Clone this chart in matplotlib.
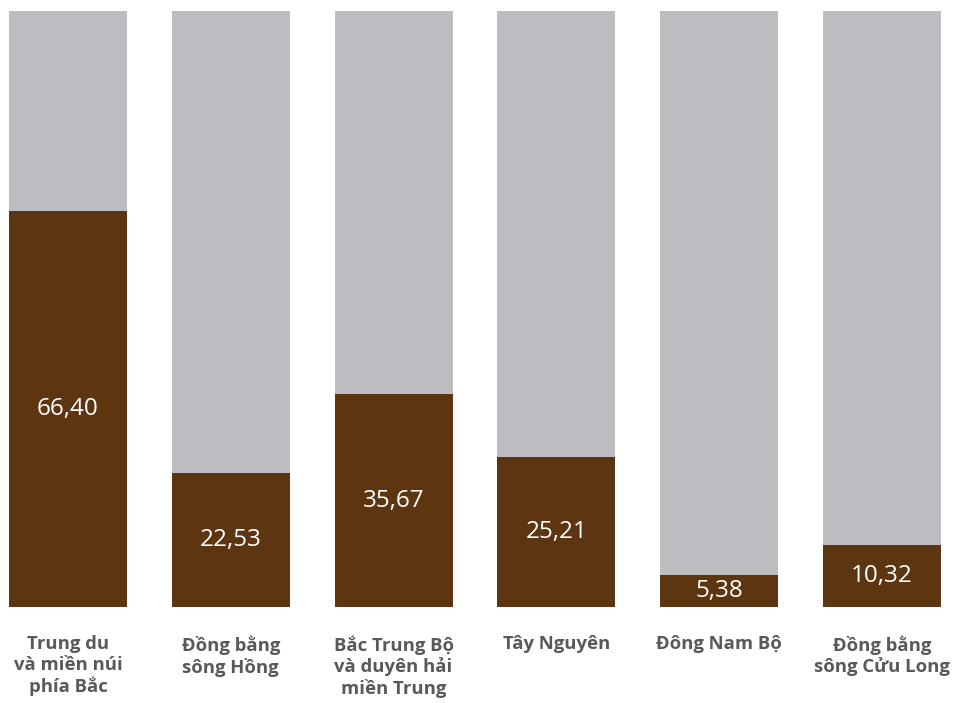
import matplotlib.pyplot as plt

regions = ['Trung du\nvà miền núi\nphía Bắc', 'Đồng bằng\nsông Hồng',
           'Bắc Trung Bộ\nvà duyên hải\nmiền Trung', 'Tây Nguyên',
           'Đông Nam Bộ', 'Đồng bằng\nsông Cửu Long']
values = [66.40, 22.53, 35.67, 25.21, 5.38, 10.32]
value_labels = ['66,40', '22,53', '35,67', '25,21', '5,38', '10,32']
total = [100] * len(values)

plt.rcParams['font.family'] = ['Open Sans', 'DejaVu Sans']

fig = plt.figure(figsize=(9.54, 7.03), dpi=100)
ax = fig.add_axes([0, 96 / 703, 1, 596 / 703])
x = list(range(len(values)))
w = 0.725
ax.bar(x, total, width=w, color='#bcbdc0')
ax.bar(x, values, width=w, color='#5e3511')

for i, v in enumerate(values):
    ax.text(i, v / 2, value_labels[i], ha='center', va='center',
            color='white', fontsize=17.5)
    ax.text(i, -4.7, regions[i], ha='center', va='top', color='#58595b',
            fontsize=13.3, fontweight='bold', linespacing=1.2)

ax.set_xlim(-68 / 162.8, 5 + 72 / 162.8)
ax.set_ylim(0, 100)
ax.axis('off')
fig.savefig('out.png', dpi=100)
